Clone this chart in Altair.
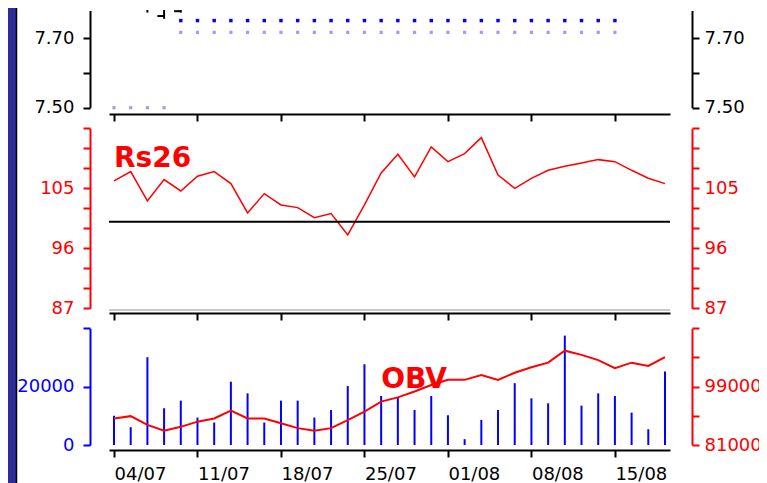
import altair as alt
import pandas as pd

# ---------------- data ----------------
week_labels = ["04/07", "11/07", "18/07", "25/07", "01/08", "08/08", "15/08"]
week_ticks = [0, 5, 10, 15, 20, 25, 30]
day_index = list(range(34))

rs26 = [106.1, 107.5, 103.1, 106.3, 104.6, 106.8, 107.5, 105.7, 101.3, 104.2,
        102.5, 102.1, 100.6, 101.2, 98.0, 102.5, 107.3, 110.1, 106.7, 111.2,
        109.0, 110.2, 112.6, 107.0, 105.0, 106.5, 107.7, 108.3, 108.8, 109.3,
        109.0, 107.7, 106.5, 105.7]
rs_reference = [100]

volume = [10000, 6100, 30100, 12600, 15200, 9400, 7700, 21700, 17700, 7700,
          15200, 15200, 9400, 12000, 20200, 27700, 16800, 16400, 12000, 16800,
          10200, 2000, 8600, 12000, 21200, 16000, 14300, 37500, 13500, 17700,
          16800, 11100, 5400, 25200]
obv = [892000, 899000, 872000, 854000, 866000, 882000, 892000, 916000, 892000, 892000,
       877000, 862000, 854000, 862000, 887000, 913000, 944000, 957000, 975000, 995000,
       1011000, 1011000, 1026000, 1011000, 1033000, 1050000, 1064000, 1101000, 1088000, 1072000,
       1047000, 1064000, 1054000, 1081000]

stop_upper = [None, None, None, None, 7.751, 7.751, 7.751, 7.751, 7.751, 7.751,
              7.751, 7.751, 7.751, 7.751, 7.751, 7.751, 7.751, 7.751, 7.751, 7.751,
              7.751, 7.751, 7.751, 7.751, 7.751, 7.751, 7.751, 7.751, 7.751, 7.751,
              7.751, None, None, None]
stop_lower = [7.50, 7.50, 7.50, 7.50, 7.717, 7.717, 7.717, 7.717, 7.717, 7.717,
              7.717, 7.717, 7.717, 7.717, 7.717, 7.717, 7.717, 7.717, 7.717, 7.717,
              7.717, 7.717, 7.717, 7.717, 7.717, 7.717, 7.717, 7.717, 7.717, 7.717,
              7.717, None, None, None]

ohlc_index = [2, 3, 4]
ohlc_low = [7.774, 7.756, 7.774]
ohlc_high = [7.80, 7.80, 7.80]
ohlc_open = [7.79, 7.764, 7.778]

price_ticks = [7.50, 7.60, 7.70]
price_labels = [7.50, 7.70]
rs_ticks = [87, 90, 93, 96, 99, 102, 105, 108, 111, 114]
rs_labels = [87, 96, 105]
vol_ticks = [0, 20000, 40000]
vol_labels = [0, 20000]
obv_ticks = [810000, 900000, 990000, 1080000, 1170000]
obv_labels = [810000, 990000]

df = pd.DataFrame({"idx": day_index, "rs26": rs26, "volume": volume, "obv": obv,
                   "upper": stop_upper, "lower": stop_lower})
ohlc_df = pd.DataFrame({"idx": ohlc_index, "low": ohlc_low, "high": ohlc_high, "open": ohlc_open})
ref_df = pd.DataFrame({"level": rs_reference})
one = pd.DataFrame({"k": [0]})

# ---------------- layout ----------------
W, H = 561, 435
FONT = "DejaVu Sans"

x_scale = alt.Scale(domain=[0, 33], nice=False, zero=False)
price_scale = alt.Scale(domain=[7.50, 7.78], range=[97.7, 0.5], nice=False, zero=False)
rs_scale = alt.Scale(domain=[87, 114], range=[298.3, 118.3], nice=False, zero=False)
vol_scale = alt.Scale(domain=[0, 40000], range=[435, 318.3], nice=False, zero=False)
obv_scale = alt.Scale(domain=[810000, 1170000], range=[435, 318.3], nice=False, zero=False)


def yaxis(orient, color, ticks, shown, fmt):
    left = orient == "left"
    return alt.Axis(orient=orient, offset=19 if left else 22, values=ticks,
                    labelExpr=f"indexof({shown}, datum.value) >= 0 ? format(datum.value, '{fmt}') : ''",
                    domainColor=color, tickColor=color, labelColor=color,
                    domainWidth=2, tickWidth=2, tickSize=7,
                    labelPadding=9 if left else 5, labelFont=FONT, labelFontSize=18,
                    labelOverlap=False, grid=False, title=None)


def xaxis(offset, show_labels):
    expr = "[" + ",".join(f"'{s}'" for s in week_labels) + "][indexof(" + str(week_ticks) + ", datum.value)]"
    return alt.Axis(orient="bottom", offset=offset, values=week_ticks, labels=show_labels,
                    labelExpr=expr, labelAlign="left", labelFlush=False,
                    domainColor="black", tickColor="black", labelColor="black",
                    domainWidth=2, tickWidth=2, tickSize=7, labelPadding=8,
                    labelFont=FONT, labelFontSize=18, labelOverlap=False, grid=False, title=None)


X_none = alt.X("idx:Q", scale=x_scale, axis=None)
base = alt.Chart(df)

# window frame strip on the left
strip = alt.Chart(one).mark_rect(color="#2c2c9a").encode(
    x=alt.value(-101), x2=alt.value(-93), y=alt.value(-2), y2=alt.value(473))
strip_edge = alt.Chart(one).mark_rule(color="black", strokeWidth=1.5).encode(
    x=alt.value(-92.5), y=alt.value(-2), y2=alt.value(473))

# --- top panel (price) ---
upper = base.transform_filter("isValid(datum.upper)").mark_square(size=12, color="#0000ff", opacity=1).encode(
    x=alt.X("idx:Q", scale=x_scale, axis=xaxis(-331, False)),
    y=alt.Y("upper:Q", scale=price_scale, axis=yaxis("left", "black", price_ticks, price_labels, ".2f")))
lower = base.transform_filter("isValid(datum.lower)").mark_square(size=10, color="#9a9aff", opacity=1).encode(
    x=X_none,
    y=alt.Y("lower:Q", scale=price_scale, axis=yaxis("right", "black", price_ticks, price_labels, ".2f")))
ohlc_bar = alt.Chart(ohlc_df).mark_rule(clip=True, color="black", strokeWidth=2).encode(
    x=X_none, y=alt.Y("low:Q", scale=price_scale, axis=None), y2="high:Q")
ohlc_open_tick = alt.Chart(ohlc_df).transform_calculate(x0="datum.idx - 0.4").mark_rule(
    clip=True, color="black", strokeWidth=2).encode(
    x=alt.X("x0:Q", scale=x_scale, axis=None), x2="idx:Q",
    y=alt.Y("open:Q", scale=price_scale, axis=None))

# --- middle panel (Rs26) ---
rs_line = base.mark_line(color="#ff0000", strokeWidth=1.5).encode(
    x=alt.X("idx:Q", scale=x_scale, axis=xaxis(-132, False)),
    y=alt.Y("rs26:Q", scale=rs_scale, axis=yaxis("left", "#ff0000", rs_ticks, rs_labels, "d")))
rs_ref = alt.Chart(ref_df).mark_rule(color="black", strokeWidth=2).encode(
    y=alt.Y("level:Q", scale=rs_scale, axis=yaxis("right", "#ff0000", rs_ticks, rs_labels, "d")))
grey_line = alt.Chart(one).mark_rule(color="#c8c8c8", strokeWidth=2).encode(
    x=alt.value(0), x2=alt.value(W), y=alt.value(300))
rs_text = alt.Chart(pd.DataFrame({"idx": [0.0], "v": [108.2], "t": ["Rs26"]})).mark_text(
    align="left", baseline="alphabetic", font=FONT, fontSize=28, fontWeight="bold", color="#ff0000").encode(
    x=X_none, y=alt.Y("v:Q", scale=rs_scale, axis=None), text="t:N")

# --- bottom panel (volume / OBV) ---
vol_bars = base.mark_bar(size=2, color="#0000ff").encode(
    x=alt.X("idx:Q", scale=x_scale, axis=xaxis(5, True)),
    y=alt.Y("volume:Q", scale=vol_scale, axis=yaxis("left", "#0000ff", vol_ticks, vol_labels, "d")))
obv_line = base.mark_line(color="#ff0000", strokeWidth=2).encode(
    x=X_none,
    y=alt.Y("obv:Q", scale=obv_scale, axis=yaxis("right", "#ff0000", obv_ticks, obv_labels, "d")))
obv_text = alt.Chart(pd.DataFrame({"idx": [16.0], "v": [986000], "t": ["OBV"]})).mark_text(
    align="left", baseline="alphabetic", font=FONT, fontSize=28, fontWeight="bold", color="#ff0000").encode(
    x=X_none, y=alt.Y("v:Q", scale=obv_scale, axis=None), text="t:N")

chart = alt.layer(
    upper, lower, ohlc_bar, ohlc_open_tick,
    grey_line, rs_line, rs_ref, rs_text,
    vol_bars, obv_line, obv_text,
    strip, strip_edge,
).resolve_scale(x="shared", y="independent").resolve_axis(x="independent", y="independent").properties(
    width=W, height=H,
    autosize=alt.AutoSizeParams(type="none"),
    padding={"left": 101, "top": 2, "right": 89, "bottom": 38},
    background="white",
).configure_view(stroke=None)

chart.save("out.html", embed_options={"renderer": "svg", "actions": False})
